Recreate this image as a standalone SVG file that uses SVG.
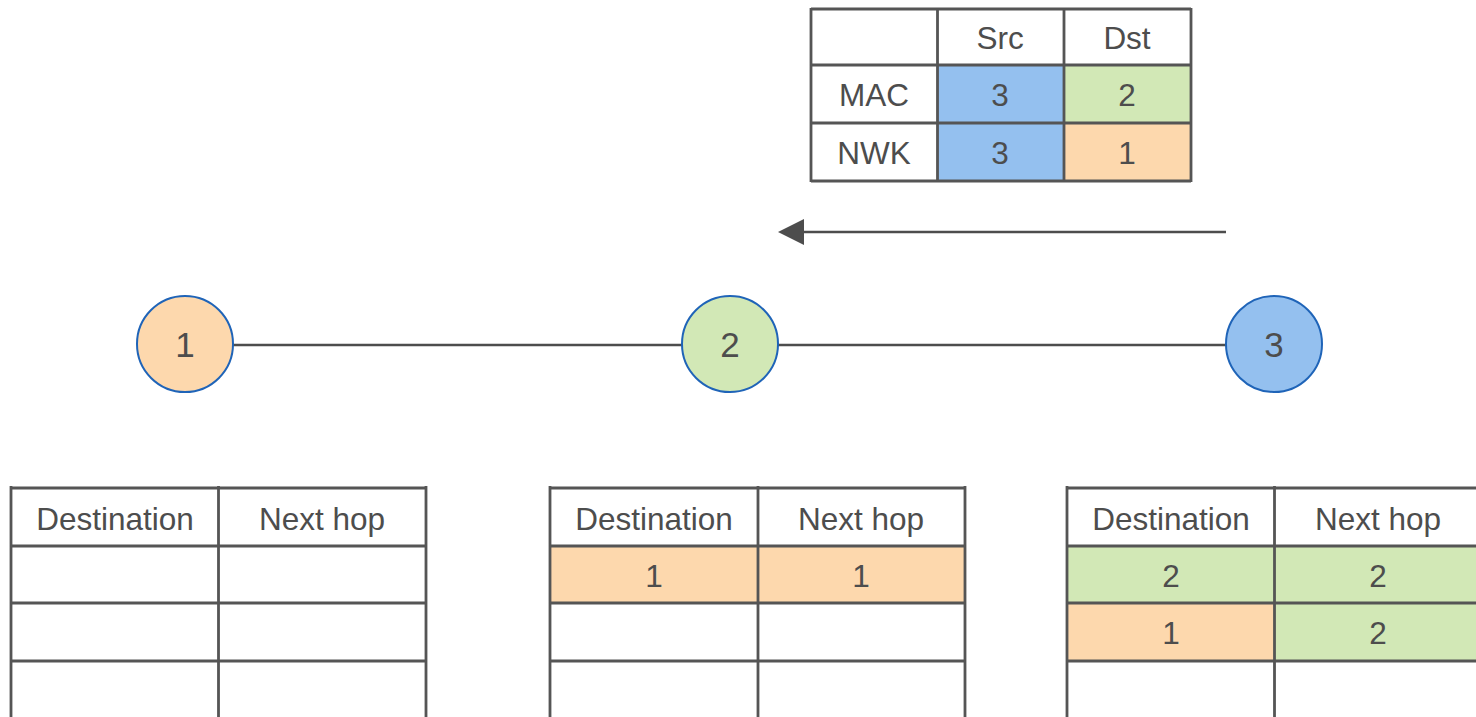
<svg xmlns="http://www.w3.org/2000/svg" width="1476" height="717" viewBox="0 0 1476 717">
  <defs>
    <style>
      .grid { stroke: #555555; stroke-width: 2.8; fill: none; }
      .txt { font-family: "Liberation Sans", Arial, sans-serif; font-size: 31.5px; fill: #4d4d4d; text-anchor: middle; }
      .num { font-family: "Liberation Sans", Arial, sans-serif; font-size: 35px; fill: #4d4d4d; text-anchor: middle; }
      .blue { fill: #94c0ef; }
      .green { fill: #d2e8b6; }
      .orange { fill: #fdd8ad; }
      .node { stroke: #1f64b8; stroke-width: 2; }
      .link { stroke: #4d4d4d; stroke-width: 2.6; fill: none; }
    </style>
    <marker id="arrowhead" markerWidth="26" markerHeight="26" refX="0" refY="13" orient="auto-start-reverse" markerUnits="userSpaceOnUse">
      <path d="M0,0 L26,13 L0,26 Z" fill="#4d4d4d"/>
    </marker>
  </defs>
  <rect width="1476" height="717" fill="#ffffff"/>

  <!-- frame header table -->
  <g id="frame-header">
    <rect class="blue" x="937" y="65" width="127" height="116"/>
    <rect class="green" x="1064" y="65" width="127" height="58"/>
    <rect class="orange" x="1064" y="123" width="127" height="58"/>
    <path class="grid" d="M811,9 H1191 M811,65 H1191 M811,123 H1191 M811,181 H1191 M811,8 V182 M937.5,8 V182 M1064,8 V182 M1191,8 V182"/>
    <text class="txt" x="1000" y="48.5">Src</text>
    <text class="txt" x="1127" y="48.5">Dst</text>
    <text class="txt" x="874" y="105.5">MAC</text>
    <text class="txt" x="1000" y="105.5">3</text>
    <text class="txt" x="1127" y="105.5">2</text>
    <text class="txt" x="874" y="163.5">NWK</text>
    <text class="txt" x="1000" y="163.5">3</text>
    <text class="txt" x="1127" y="163.5">1</text>
  </g>

  <!-- connectors -->
  <g id="connectors">
    <line class="link" x1="1226" y1="232" x2="804" y2="232" marker-end="url(#arrowhead)"/>
    <line class="link" x1="233" y1="345" x2="682" y2="345"/>
    <line class="link" x1="778" y1="345" x2="1226" y2="345"/>
  </g>

  <!-- nodes -->
  <g id="node-1">
    <circle class="node orange" cx="185" cy="344" r="48"/>
    <text class="num" x="185" y="357">1</text>
  </g>
  <g id="node-2">
    <circle class="node green" cx="730" cy="344" r="48"/>
    <text class="num" x="730" y="357">2</text>
  </g>
  <g id="node-3">
    <circle class="node blue" cx="1274" cy="344" r="48"/>
    <text class="num" x="1274" y="357">3</text>
  </g>

  <!-- routing table of node 1 -->
  <g id="table-1">
    <path class="grid" d="M11,488 H427 M11,546 H427 M11,603 H427 M11,661 H427 M11,486 V717 M218.5,486 V717 M426,486 V717"/>
    <text class="txt" x="115" y="529.5">Destination</text>
    <text class="txt" x="322" y="529.5">Next hop</text>
  </g>

  <!-- routing table of node 2 -->
  <g id="table-2">
    <rect class="orange" x="550" y="546" width="415" height="57"/>
    <path class="grid" d="M550,488 H966 M550,546 H966 M550,603 H966 M550,661 H966 M550,486 V717 M758,486 V717 M965,486 V717"/>
    <text class="txt" x="654" y="529.5">Destination</text>
    <text class="txt" x="861" y="529.5">Next hop</text>
    <text class="txt" x="654" y="586.5">1</text>
    <text class="txt" x="861" y="586.5">1</text>
  </g>

  <!-- routing table of node 3 -->
  <g id="table-3">
    <rect class="green" x="1067" y="546" width="409" height="115"/>
    <rect class="orange" x="1067" y="603" width="208" height="58"/>
    <path class="grid" d="M1067,488 H1476 M1067,546 H1476 M1067,603 H1476 M1067,661 H1476 M1067,486 V717 M1274.5,486 V717"/>
    <text class="txt" x="1171" y="529.5">Destination</text>
    <text class="txt" x="1378" y="529.5">Next hop</text>
    <text class="txt" x="1171" y="586.5">2</text>
    <text class="txt" x="1378" y="586.5">2</text>
    <text class="txt" x="1171" y="643.5">1</text>
    <text class="txt" x="1378" y="643.5">2</text>
  </g>
</svg>
